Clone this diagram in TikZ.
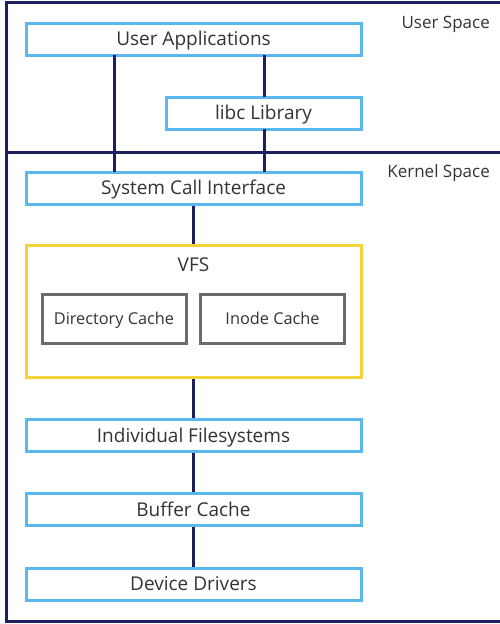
\documentclass[tikz,border=0pt]{standalone}
\usepackage{fontspec}
\setmainfont{Open Sans}
\definecolor{navy}{HTML}{1B1F5E}
\definecolor{skyb}{HTML}{5BB8EE}
\definecolor{vfsy}{HTML}{F2D43A}
\definecolor{cgray}{HTML}{6B6B6B}
\definecolor{txt}{HTML}{333333}
\begin{document}
\begin{tikzpicture}[x=1pt,y=-1pt,
  layer/.style={draw=skyb,line width=3pt,fill=white,minimum width=335pt,minimum height=32pt,inner sep=0pt,text=txt,font=\fontsize{19}{21}\selectfont,text height=13.6pt,text depth=0pt},
  cache/.style={draw=cgray,line width=3pt,fill=white,minimum width=144pt,minimum height=49pt,inner sep=0pt,text=txt,font=\fontsize{16.3}{18}\selectfont,text height=11.6pt,text depth=0pt},
  link/.style={draw=navy,line width=3pt},
  space/.style={anchor=east,inner sep=0pt,text=txt,font=\fontsize{17}{19}\selectfont,text height=12.1pt,text depth=0pt}]
\useasboundingbox (0,0) rectangle (500,624);
% frame
\draw[navy,line width=3pt] (501,2) -- (6,2) -- (6,621) -- (501,621);
\draw[navy,line width=3pt] (6,152) -- (501,152);
\node[space] (us) at (490,22.5) {User Space};
\node[space] (ks) at (490,171.5) {Kernel Space};
% boxes
\node[layer] (ua) at (193.5,39) {User Applications};
\node[layer,minimum width=195pt] (libc) at (263.5,113) {libc Library};
\node[layer] (sci) at (193.5,188) {System Call Interface};
\node[draw=vfsy,line width=3pt,fill=white,minimum width=335pt,minimum height=132pt,inner sep=0pt] (vfs) at (193.5,311) {};
\node[text=txt,font=\fontsize{19}{21}\selectfont,inner sep=0pt,text height=13.6pt,text depth=0pt] (vfsl) at (193.5,265) {VFS};
\node[cache] (dc) at (114,318.5) {Directory Cache};
\node[cache] (ic) at (272.5,318.5) {Inode Cache};
\node[layer] (if) at (193.5,435.5) {Individual Filesystems};
\node[layer] (bc) at (193.5,509.5) {Buffer Cache};
\node[layer] (dd) at (193.5,584) {Device Drivers};
% connectors
\coordinate (a1) at (114,55);
\coordinate (a2) at (114,172);
\coordinate (b1) at (264,55);
\coordinate (b2) at (264,97);
\coordinate (c1) at (264,129);
\coordinate (c2) at (264,172);
\begin{scope}[on background layer/.style={}]
\draw[link] (a1) -- (a2);
\draw[link] (b1) -- (b2);
\draw[link] (c1) -- (c2);
\draw[link] (sci.south) -- (vfs.north);
\draw[link] (vfs.south) -- (if.north);
\draw[link] (if.south) -- (bc.north);
\draw[link] (bc.south) -- (dd.north);
\end{scope}
\end{tikzpicture}
\end{document}
